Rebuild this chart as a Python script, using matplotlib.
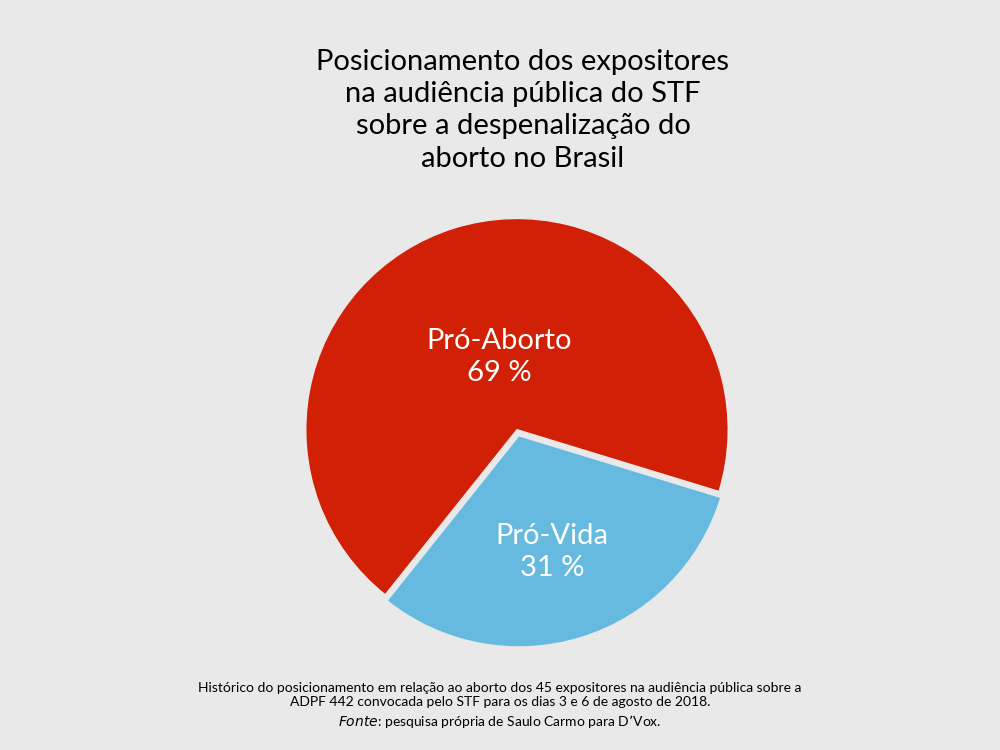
import matplotlib.pyplot as plt

labels = ['Pró-Aborto', 'Pró-Vida']
values = [69, 31]
colors = ['#d12006', '#66bae0']

bg = '#e9e9e9'
plt.rcParams['font.family'] = 'Lato'

fig = plt.figure(figsize=(10, 7.5), dpi=100, facecolor=bg)
ax = fig.add_axes([0.267, 0.427 - 0.3333, 0.5, 0.6667])
ax.set_facecolor(bg)
wedges, _ = ax.pie(values, colors=colors, startangle=-17, counterclock=True,
                   radius=0.845, explode=[0, 0.025],
                   wedgeprops=dict(edgecolor=bg, linewidth=1))
ax.set_xlim(-1, 1)
ax.set_ylim(-1, 1)
ax.set_aspect('equal')
ax.axis('off')

label_pos = [(-0.07, 0.29), (0.14, -0.49)]
for lab, val, (x, y) in zip(labels, values, label_pos):
    ax.text(x, y, f'{lab}\n{val} %', ha='center', va='center', color='white',
            fontsize=21, linespacing=1.3)

fig.text(0.523, 0.853, 'Posicionamento dos expositores\nna audiência pública do STF\n'
         'sobre a despenalização do\naborto no Brasil',
         ha='center', va='center', fontsize=21, linespacing=1.3)

fig.text(0.5, 0.073, 'Histórico do posicionamento em relação ao aborto dos 45 expositores na audiência pública sobre a\n'
         'ADPF 442 convocada pelo STF para os dias 3 e 6 de agosto de 2018.',
         ha='center', va='center', fontsize=10, linespacing=1.25)
fig.text(0.5, 0.0385, r'$\it{Fonte}$: pesquisa própria de Saulo Carmo para D’Vox.',
         ha='center', va='center', fontsize=10)

fig.savefig('out.png', facecolor=bg)
